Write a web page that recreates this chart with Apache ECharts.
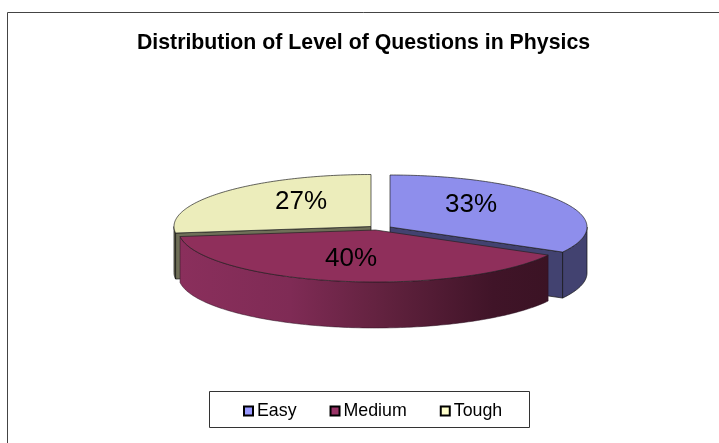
<!DOCTYPE html>
<html><head><meta charset="utf-8">
<style>html,body{margin:0;padding:0;background:#fff}#c{width:719px;height:443px}</style>
<script src="https://cdn.jsdelivr.net/npm/echarts@6/dist/echarts.min.js"></script>
</head><body><div id="c"></div>
<script>
const categories = ['Easy', 'Medium', 'Tough'];
const shares = [33, 40, 27];
const titleText = 'Distribution of Level of Questions in Physics';

const topColors = ['#8e8eec', '#8f2f5b', '#ecedbb'];
const legendColors = ['#9999ff', '#993366', '#ffffcc'];
const sideFills = [
  '#424270',
  {type:'linear',x:0,y:0,x2:1,y2:0,colorStops:[
    {offset:0,color:'#8a2f5c'},{offset:0.3,color:'#7f2b55'},{offset:0.55,color:'#62223f'},
    {offset:0.85,color:'#401428'},{offset:1,color:'#3b1324'}]},
  '#6f6f58'
];
// Exploded slice anchors and label anchors, in pixels
const sliceCentres = [[390,227],[375.5,230],[371,226.5]];
const labelAnchors = [[471,205],[351,259],[301,202]];
const RX = 197, RY = 52, DEPTH = 46;

const total = shares.reduce((a,b)=>a+b,0);
const startAngles = shares.map((_,i)=>shares.slice(0,i).reduce((a,b)=>a+b,0)/total*360);

function pt(c, deg, dy){
  const t = deg*Math.PI/180;
  return [c[0]+RX*Math.sin(t), c[1]-RY*Math.cos(t)+(dy||0)];
}
function arc(c, a, b, dy){
  const out=[], n=Math.max(2,Math.ceil(Math.abs(b-a)));
  for(let i=0;i<=n;i++) out.push(pt(c,a+(b-a)*i/n,dy));
  return out;
}
function renderSlice(params, api){
  const idx = params.seriesIndex, c = sliceCentres[idx];
  const value = api.value(0);
  const a0 = startAngles[idx], a1 = a0+value/total*360;
  const children = [];
  const line = {stroke:'#111', lineWidth:0.7};
  const sideStyle = Object.assign({fill:sideFills[idx]}, idx===1?{stroke:'#2a1020',lineWidth:0.5}:line);
  // straight cut faces looking towards the viewer
  const cut = a => {
    const e = pt(c,a);
    children.push({type:'polygon',shape:{points:[c,e,[e[0],e[1]+DEPTH],[c[0],c[1]+DEPTH]]},style:Object.assign({fill:sideFills[idx]},line)});
  };
  if(idx===0) cut(a1);
  if(idx===2) cut(a0);
  // outer rim, only its front half can be seen
  const s = Math.max(a0,90), e = Math.min(a1,270);
  if(e>s){
    const pts = arc(c,s,e,0).concat(arc(c,e,s,DEPTH));
    children.push({type:'polygon',shape:{points:pts},style:sideStyle});
  }
  // top face
  const topPts = [c].concat(arc(c,a0,a1,0));
  children.push({type:'polygon',shape:{points:topPts},style:{fill:topColors[idx],stroke:'#222',lineWidth:0.7}});
  const la = labelAnchors[idx];
  children.push({type:'text',z2:100,style:{x:la[0],y:la[1],text:Math.round(value/total*100)+'%',
    fill:'#000',font:'26px "Liberation Sans", Arial, sans-serif',textAlign:'center',textVerticalAlign:'middle'}});
  return {type:'group',children};
}
const fullSeries = categories.map((name,i)=>({
  name, type:'custom', coordinateSystem:'none', renderItem:renderSlice,
  z: i===1?3:2, silent:true, animation:false, clip:false,
  data:[[shares[i]]], encode:{value:0},
  itemStyle:{color:legendColors[i], borderColor:'#000', borderWidth:2}
}));
const chart = echarts.init(document.getElementById('c'),null,{renderer:'canvas'});
chart.setOption({
  animation:false,
  backgroundColor:'#fff',
  title:{text:titleText,left:363.5,top:33,padding:0,textAlign:'center',
    textStyle:{fontFamily:'"Liberation Sans", Arial, sans-serif',fontWeight:'bold',fontSize:21.3,color:'#000'}},
  legend:{left:243,top:402,orient:'horizontal',
    data:categories,itemWidth:9,itemHeight:9,itemGap:33,selectedMode:false,padding:0,
    textStyle:{fontFamily:'"Liberation Sans", Arial, sans-serif',fontSize:17.8,color:'#000',padding:[0,0,0,-1]},
    itemStyle:{borderColor:'#000',borderWidth:2},
    icon:'rect'},
  graphic:[
    {type:'rect',z:-1,shape:{x:7.5,y:12.5,width:720,height:440},style:{fill:'#fff',stroke:'#444',lineWidth:1}},
    {type:'rect',z:1,shape:{x:209.5,y:391.5,width:320,height:36},style:{fill:'#fff',stroke:'#333',lineWidth:1}}
  ],
  series:fullSeries
});
</script></body></html>
